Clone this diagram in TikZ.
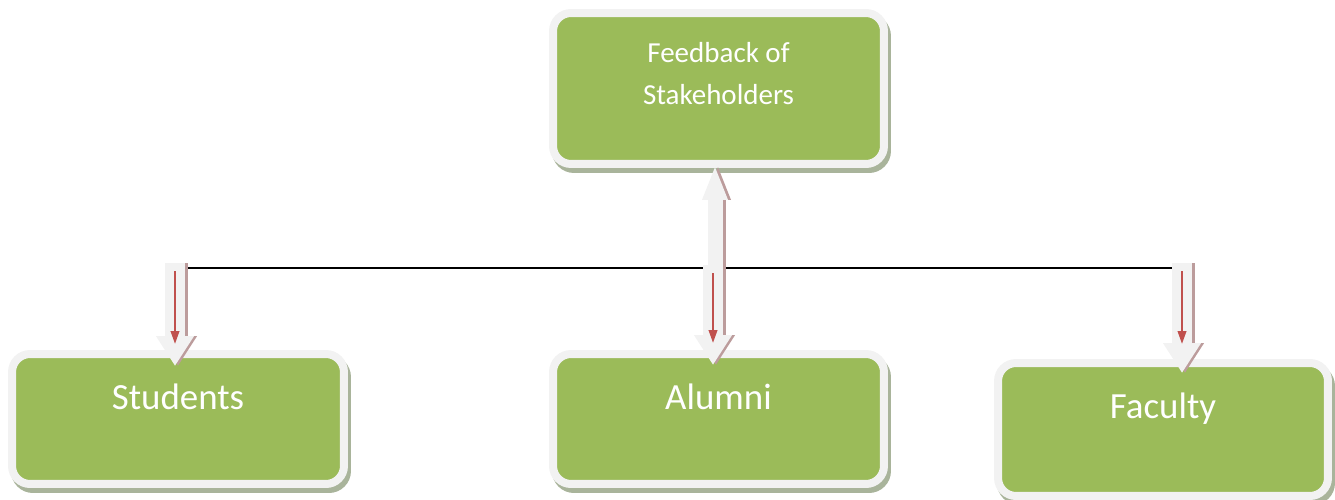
\documentclass[tikz,border=0pt]{standalone}
\usepackage{fontspec}
\setmainfont{Carlito}
\usetikzlibrary{positioning,calc,shadows,arrows.meta}
\definecolor{boxgreen}{HTML}{9BBB59}
\definecolor{rimwhite}{HTML}{F2F2F2}
\definecolor{shadegreen}{HTML}{A9B49B}
\definecolor{arrowshade}{HTML}{BC9C9C}
\definecolor{arrowred}{HTML}{C0504D}

\tikzset{
  box/.style={rectangle, rounded corners=0.36cm, fill=boxgreen, draw=rimwhite,
    line width=0.16cm, text=white, align=center,
    drop shadow={shadow xshift=0.06cm, shadow yshift=-0.1cm, fill=shadegreen,
      draw=shadegreen, line width=0.16cm, opacity=1}},
  bigtext/.style={font=\fontsize{21}{25}\selectfont, text height=0.5cm},
  smalltext/.style={font=\fontsize{16.5}{24}\selectfont},
  block/.style={line width=0.4cm, rimwhite, -{Triangle[width=0.72cm,length=0.6cm]}},
  blockshade/.style={line width=0.4cm, arrowshade, -{Triangle[width=0.72cm,length=0.6cm]}},
  upblock/.style={line width=0.3cm, rimwhite, -{Triangle[width=0.46cm,length=0.7cm]}},
  upshade/.style={line width=0.3cm, arrowshade, -{Triangle[width=0.46cm,length=0.7cm]}},
  redarrow/.style={arrowred, line width=0.045cm, -{Triangle[width=0.17cm,length=0.26cm]}},
}

\begin{document}
\begin{tikzpicture}[x=0.02cm, y=-0.02cm]
\useasboundingbox (0,0) rectangle (1335,500);

% boxes
\node[box, smalltext, minimum width=6.62cm, minimum height=3.02cm,
  text height=1.3cm, text depth=0.66cm] (fb) at (718.5,88.5) {Feedback of\\Stakeholders};
\node[box, bigtext, minimum width=6.64cm, minimum height=2.6cm,
  text depth=0.9cm] (stu) at (178,419) {Students};
\node[box, bigtext, minimum width=6.62cm, minimum height=2.6cm,
  text depth=0.9cm] (alu) at (718.5,419) {Alumni};
\node[box, bigtext, minimum width=6.6cm, minimum height=2.66cm,
  text depth=0.96cm] (fac) at (1163,429.5) {Faculty};

% junction line
\coordinate (lineL) at (185,268);
\coordinate (lineR) at (1175,268);
\coordinate (jS) at (175,263);
\coordinate (jA) at (713,265);
\coordinate (jF) at (1182,263);
\coordinate (jU) at (715,268);
\draw[line width=0.03cm] (lineL) -- (lineR);

% arrow up to the feedback box
\draw[upshade] ($(jU)+(3,0)$) -- ($(jU |- fb.south)+(3,-3)$);
\draw[upblock] (jU) -- ($(jU |- fb.south)+(0,-3)$);

% arrows down to the stakeholders
\foreach \j/\b/\d/\r in {jS/stu/16/-6, jA/alu/15/-7, jF/fac/14/-15}{
  \draw[blockshade] ($(\j)+(3,0)$) -- ($(\j |- \b.north)+(3,\d)$);
  \draw[block] (\j) -- ($(\j |- \b.north)+(0,\d)$);
  \draw[redarrow] ($(\j)+(0,8)$) -- ($(\j |- \b.north)+(0,\r)$);
}
\end{tikzpicture}
\end{document}
